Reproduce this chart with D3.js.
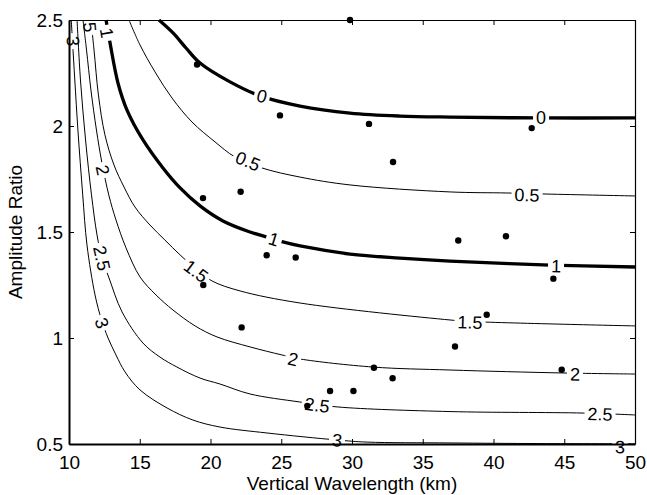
<!DOCTYPE html>
<html>
<head>
<meta charset="utf-8">
<script src="https://cdn.jsdelivr.net/npm/d3@7"></script>
<style>
  body { margin: 0; background: #fff; }
  text { font-family: "Liberation Sans", Arial, Helvetica, sans-serif; }
</style>
</head>
<body>
<div id="contour-plot"></div>
<script>
// contour lines: [vertical wavelength (km), amplitude ratio]
var levels = ["0", "0.5", "1", "1.5", "2", "2.5", "3"];
var thickLevels = ["0", "1"];

var line0 = [[16.36,2.5],[17.35,2.439],[18.27,2.368],[19.26,2.297],[21.38,2.208],[23.50,2.142],
  [26.33,2.094],[29.86,2.061],[33.39,2.047],[36.93,2.042],[43.29,2.038],[50,2.038]];
var line05 = [[14.24,2.5],[15.02,2.382],[16.08,2.255],[17.28,2.132],[18.69,2.019],[20.32,1.925],
  [21.73,1.854],[23.64,1.802],[26.33,1.759],[29.86,1.722],[36.93,1.689],[40.95,1.684],[43.78,1.679],[50,1.670]];
var line1 = [[12.62,2.5],[12.90,2.392],[13.46,2.203],[14.10,2.075],[15.23,1.934],[16.64,1.802],
  [17.85,1.708],[19.26,1.623],[20.88,1.552],[22.79,1.500],[23.99,1.476],[25.12,1.453],[26.33,1.434],
  [29.86,1.396],[33.39,1.377],[36.93,1.363],[43.99,1.344],[50,1.335]];
var line15 = [[11.55,2.5],[11.77,2.358],[12.08,2.146],[12.54,1.958],[13.18,1.816],[13.89,1.712],
  [14.66,1.618],[15.72,1.533],[16.78,1.462],[17.85,1.392],[18.98,1.325],[20.11,1.269],[22.09,1.222],
  [26.33,1.165],[36.93,1.085],[38.34,1.078],[50,1.057]];
var line2 = [[10.99,2.5],[11.24,2.358],[11.55,2.170],[11.94,1.981],[12.33,1.825],[12.81,1.675],
  [13.32,1.557],[14.03,1.425],[15.02,1.288],[16.15,1.203],[17.35,1.132],[18.91,1.057],[20.46,1.005],
  [22.79,0.958],[25.05,0.920],[26.33,0.901],[31.48,0.863],[36.93,0.849],[44.91,0.835],[50,0.830]];
var line25 = [[10.57,2.5],[10.81,2.217],[11.17,1.934],[11.59,1.675],[11.98,1.486],[12.33,1.377],
  [12.83,1.283],[13.75,1.123],[15.23,0.976],[16.43,0.910],[17.63,0.863],[19.26,0.811],[20.67,0.783],
  [22.79,0.736],[26.33,0.698],[28.94,0.675],[36.93,0.653],[46.33,0.646],[50,0.637]];
var line3 = [[10.16,2.5],[10.25,2.396],[10.41,2.217],[10.63,1.981],[10.97,1.675],[11.27,1.439],
  [11.84,1.203],[12.30,1.085],[12.76,1.000],[13.32,0.920],[13.96,0.840],[15.02,0.755],[16.93,0.670],
  [18.76,0.613],[20.67,0.580],[23.99,0.552],[28.94,0.519],[31.06,0.509],[36.93,0.505],[43.29,0.502],[50,0.501]];
var contourLines = [line0, line05, line1, line15, line2, line25, line3];

// where the contour labels sit: [x, y, text]
var labels0 = [[23.64,2.142,"0"],[43.36,2.038,"0"]];
var labels05 = [[22.65,1.835,"0.5"],[42.37,1.675,"0.5"]];
var labels1 = [[12.69,2.439,"1"],[24.49,1.467,"1"],[44.42,1.340,"1"]];
var labels15 = [[11.48,2.467,"5"],[18.99,1.316,"1.5"],[38.34,1.075,"1.5"]];
var labels2 = [[12.40,1.792,"2"],[25.83,0.901,"2"],[45.76,0.830,"2"]];
var labels25 = [[12.33,1.377,"2.5"],[27.53,0.684,"2.5"],[47.53,0.642,"2.5"]];
var labels3 = [[10.30,2.400,"3"],[12.33,1.071,"3"],[28.94,0.519,"3"],[48.94,0.487,"3"]];
var contourLabels = [labels0, labels05, labels1, labels15, labels2, labels25, labels3];

// observations
var obsWavelength = [19.05, 29.86, 24.91, 31.20, 32.90, 42.70, 19.47, 22.13, 23.97, 26.02, 19.49, 22.20,
  37.51, 40.88, 44.23, 39.52, 37.28, 44.82, 31.55, 32.87, 28.45, 30.10, 26.84];
var obsRatio = [2.29, 2.50, 2.05, 2.01, 1.83, 1.99, 1.66, 1.69, 1.39, 1.38, 1.25, 1.05,
  1.46, 1.48, 1.28, 1.11, 0.96, 0.85, 0.86, 0.81, 0.75, 0.75, 0.68];

var xTicks = [10, 15, 20, 25, 30, 35, 40, 45, 50];
var yTicks = [0.5, 1, 1.5, 2, 2.5];

var W = 647, H = 495;
var margin = {top: 20, right: 12, bottom: 51, left: 69},
    width = W - margin.left - margin.right,
    height = H - margin.top - margin.bottom;

var x = d3.scaleLinear().domain([10, 50]).range([0, width]);
var y = d3.scaleLinear().domain([0.5, 2.5]).range([height, 0]);

var svg = d3.select("#contour-plot").append("svg")
    .attr("width", W)
    .attr("height", H);
svg.append("rect").attr("width", W).attr("height", H).attr("fill", "#fff");
var defs = svg.append("defs");

var g = svg.append("g")
    .attr("transform", "translate(" + margin.left + "," + margin.top + ")");

var line = d3.line()
    .x(function(d) { return x(d[0]); })
    .y(function(d) { return y(d[1]); })
    .curve(d3.curveCatmullRom.alpha(0.5));

// angle of the contour under a label, in screen space
function labelAngle(pts, lx, ly) {
  var best = 1e9, ang = 0;
  for (var i = 0; i < pts.length - 1; i++) {
    var x0 = x(pts[i][0]), y0 = y(pts[i][1]), x1 = x(pts[i+1][0]), y1 = y(pts[i+1][1]);
    var dx = x1 - x0, dy = y1 - y0;
    var t = ((lx - x0) * dx + (ly - y0) * dy) / (dx * dx + dy * dy);
    t = Math.max(0, Math.min(1, t));
    var dist = Math.hypot(x0 + t * dx - lx, y0 + t * dy - ly);
    if (dist < best) { best = dist; ang = Math.atan2(dy, dx) * 180 / Math.PI; }
  }
  if (ang > 90) ang -= 180;
  if (ang < -90) ang += 180;
  return ang;
}

var lineLayer = g.append("g");
var labelLayer = g.append("g");

contourLines.forEach(function(pts, i) {
  var mask = defs.append("mask")
      .attr("id", "gap" + i)
      .attr("maskUnits", "userSpaceOnUse")
      .attr("x", -margin.left).attr("y", -margin.top)
      .attr("width", W).attr("height", H);
  mask.append("rect")
      .attr("x", -margin.left).attr("y", -margin.top)
      .attr("width", W).attr("height", H)
      .attr("fill", "white");

  contourLabels[i].forEach(function(l) {
    var lx = x(l[0]), ly = y(l[1]);
    var a = labelAngle(pts, lx, ly);
    var t = labelLayer.append("text")
        .attr("transform", "translate(" + lx + "," + ly + ") rotate(" + a + ")")
        .attr("text-anchor", "middle")
        .attr("dy", "0.36em")
        .attr("font-size", 18)
        .attr("fill", "#000")
        .text(l[2]);
    var w = t.node().getComputedTextLength();
    mask.append("rect")
        .attr("x", -w / 2 - 3).attr("y", -7)
        .attr("width", w + 6).attr("height", 14)
        .attr("transform", "translate(" + lx + "," + ly + ") rotate(" + a + ")")
        .attr("fill", "black");
  });

  var thick = thickLevels.indexOf(levels[i]) >= 0;
  lineLayer.append("path")
      .datum(pts)
      .attr("d", line)
      .attr("fill", "none")
      .attr("stroke", "#000")
      .attr("stroke-width", thick ? 3.3 : 1)
      .attr("mask", "url(#gap" + i + ")");
});

// axes box with inward ticks
var xAxis = d3.axisBottom(x).tickValues(xTicks).tickSizeInner(-5).tickSizeOuter(0).tickPadding(12)
    .tickFormat(d3.format(""));
var yAxis = d3.axisLeft(y).tickValues(yTicks).tickSizeInner(-5).tickSizeOuter(0).tickPadding(6)
    .tickFormat(d3.format(""));

var gx = g.append("g").attr("transform", "translate(0," + height + ")").call(xAxis);
var gy = g.append("g").call(yAxis);
g.append("g").call(d3.axisTop(x).tickValues(xTicks).tickSizeInner(-5).tickSizeOuter(0).tickFormat(""))
    .selectAll("path").attr("stroke-width", 1.2);
g.append("g").attr("transform", "translate(" + width + ",0)")
    .call(d3.axisRight(y).tickValues(yTicks).tickSizeInner(-5).tickSizeOuter(0).tickFormat(""))
    .selectAll("path").attr("stroke-width", 1.2);

[gx, gy].forEach(function(a) {
  a.attr("font-size", 19).attr("font-family", null);
  a.selectAll("text").attr("fill", "#000");
  a.select(".domain").attr("stroke-width", 2);
});

svg.append("text")
    .attr("x", margin.left + width / 2)
    .attr("y", 490)
    .attr("text-anchor", "middle")
    .attr("font-size", 19)
    .text("Vertical Wavelength (km)");

svg.append("text")
    .attr("transform", "translate(22," + (margin.top + height / 2) + ") rotate(-90)")
    .attr("text-anchor", "middle")
    .attr("font-size", 19)
    .text("Amplitude Ratio");

// data points
g.selectAll(".dot")
    .data(obsWavelength)
    .enter()
    .append("circle")
    .attr("class", "dot")
    .attr("cx", function(d) { return x(d); })
    .attr("cy", function(d, i) { return y(obsRatio[i]); })
    .attr("r", 3.2)
    .attr("fill", "#000");
</script>
</body>
</html>
